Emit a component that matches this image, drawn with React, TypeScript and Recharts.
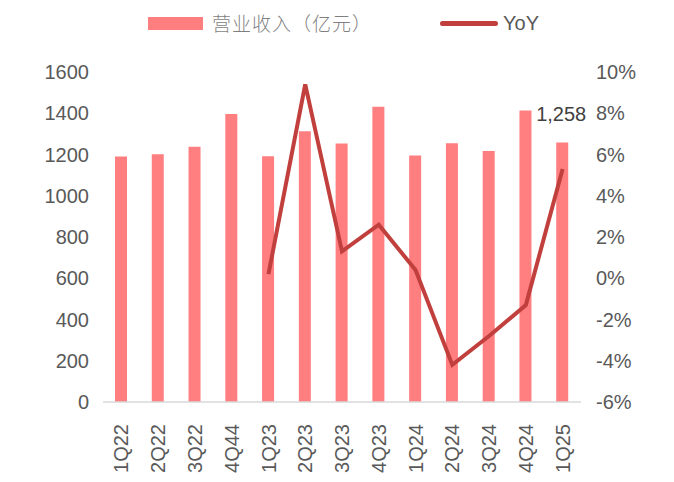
import React from 'react';
import { ComposedChart, Bar, Line, XAxis, YAxis, LabelList } from 'recharts';

const quarters = ['1Q22', '2Q22', '3Q22', '4Q44', '1Q23', '2Q23', '3Q23', '4Q23', '1Q24', '2Q24', '3Q24', '4Q24', '1Q25'];
const revenue = [1190, 1201, 1238, 1396, 1192, 1313, 1253, 1432, 1195, 1255, 1217, 1413, 1258];
const yoy = [null, null, null, null, 0.2, 9.4, 1.3, 2.6, 0.4, -4.2, -2.8, -1.3, 5.3];
const leftTicks = [0, 200, 400, 600, 800, 1000, 1200, 1400, 1600];
const rightTicks = [-6, -4, -2, 0, 2, 4, 6, 8, 10];

const BAR_COLOR = '#FF7E80';
const LINE_COLOR = '#C1403D';
const TEXT_COLOR = '#595959';
const FONT = '"Liberation Sans", Arial, sans-serif';

const data = quarters.map((q, i) => ({ q, revenue: revenue[i], yoy: yoy[i] }));

const XTick = (props: any) => {
  const { x, y, payload } = props;
  return (
    <text
      x={x}
      y={y + 14}
      dy="0.355em"
      transform={`rotate(-90, ${x}, ${y + 14})`}
      textAnchor="end"
      fill={TEXT_COLOR}
      fontSize={20}
      fontFamily={FONT}
    >
      {payload.value}
    </text>
  );
};

const LastLabel = (props: any) => {
  const { x, y, width, index, value } = props;
  if (index !== revenue.length - 1) return null;
  return (
    <text x={x + width / 2 - 1} y={y - 22} textAnchor="middle" fill="#404040" fontSize={20} fontFamily={FONT}>
      {Number(value).toLocaleString('en-US')}
    </text>
  );
};

export default function App() {
  return (
    <div style={{ position: 'fixed', left: 0, top: 0, width: 674, height: 482, background: '#fff' }}>
      <div style={{ position: 'absolute', left: 0, top: 0, width: 674, height: 50, fontFamily: FONT }}>
        <div style={{ position: 'absolute', left: 148, top: 17, width: 55, height: 13, background: BAR_COLOR }} />
        <div
          style={{
            position: 'absolute',
            left: 212,
            top: 10,
            fontSize: 19,
            letterSpacing: 1,
            lineHeight: '26px',
            color: '#7F7F7F',
            fontFamily: '"Noto Sans CJK SC", sans-serif',
            fontWeight: 300,
          }}
        >
          营业收入（亿元）
        </div>
        <div style={{ position: 'absolute', left: 440, top: 21, width: 58, height: 5, borderRadius: 3, background: LINE_COLOR }} />
        <div style={{ position: 'absolute', left: 503, top: 10, fontSize: 20, lineHeight: '26px', color: TEXT_COLOR }}>YoY</div>
      </div>
      <ComposedChart width={674} height={482} data={data} margin={{ top: 72, right: 0, bottom: 0, left: 0 }}>
        <XAxis
          dataKey="q"
          height={80}
          interval={0}
          tick={<XTick />}
          tickLine={false}
          axisLine={{ stroke: '#D9D9D9', strokeWidth: 1.5 }}
        />
        <YAxis
          yAxisId="left"
          width={103}
          domain={[0, 1600]}
          ticks={leftTicks}
          interval={0}
          axisLine={false}
          tickLine={false}
          tickSize={0}
          tickMargin={14}
          tick={{ fill: TEXT_COLOR, fontSize: 20, fontFamily: FONT }}
        />
        <YAxis
          yAxisId="right"
          orientation="right"
          width={93}
          domain={[-6, 10]}
          ticks={rightTicks}
          interval={0}
          axisLine={false}
          tickLine={false}
          tickSize={0}
          tickMargin={15}
          tickFormatter={(v: number) => `${v}%`}
          tick={{ fill: TEXT_COLOR, fontSize: 20, fontFamily: FONT, textAnchor: 'start' }}
        />
        <Bar yAxisId="left" dataKey="revenue" fill={BAR_COLOR} barSize={12} isAnimationActive={false}>
          <LabelList dataKey="revenue" content={<LastLabel />} />
        </Bar>
        <Line
          yAxisId="right"
          dataKey="yoy"
          stroke={LINE_COLOR}
          strokeWidth={4}
          dot={false}
          activeDot={false}
          connectNulls={false}
          isAnimationActive={false}
        />
      </ComposedChart>
    </div>
  );
}
